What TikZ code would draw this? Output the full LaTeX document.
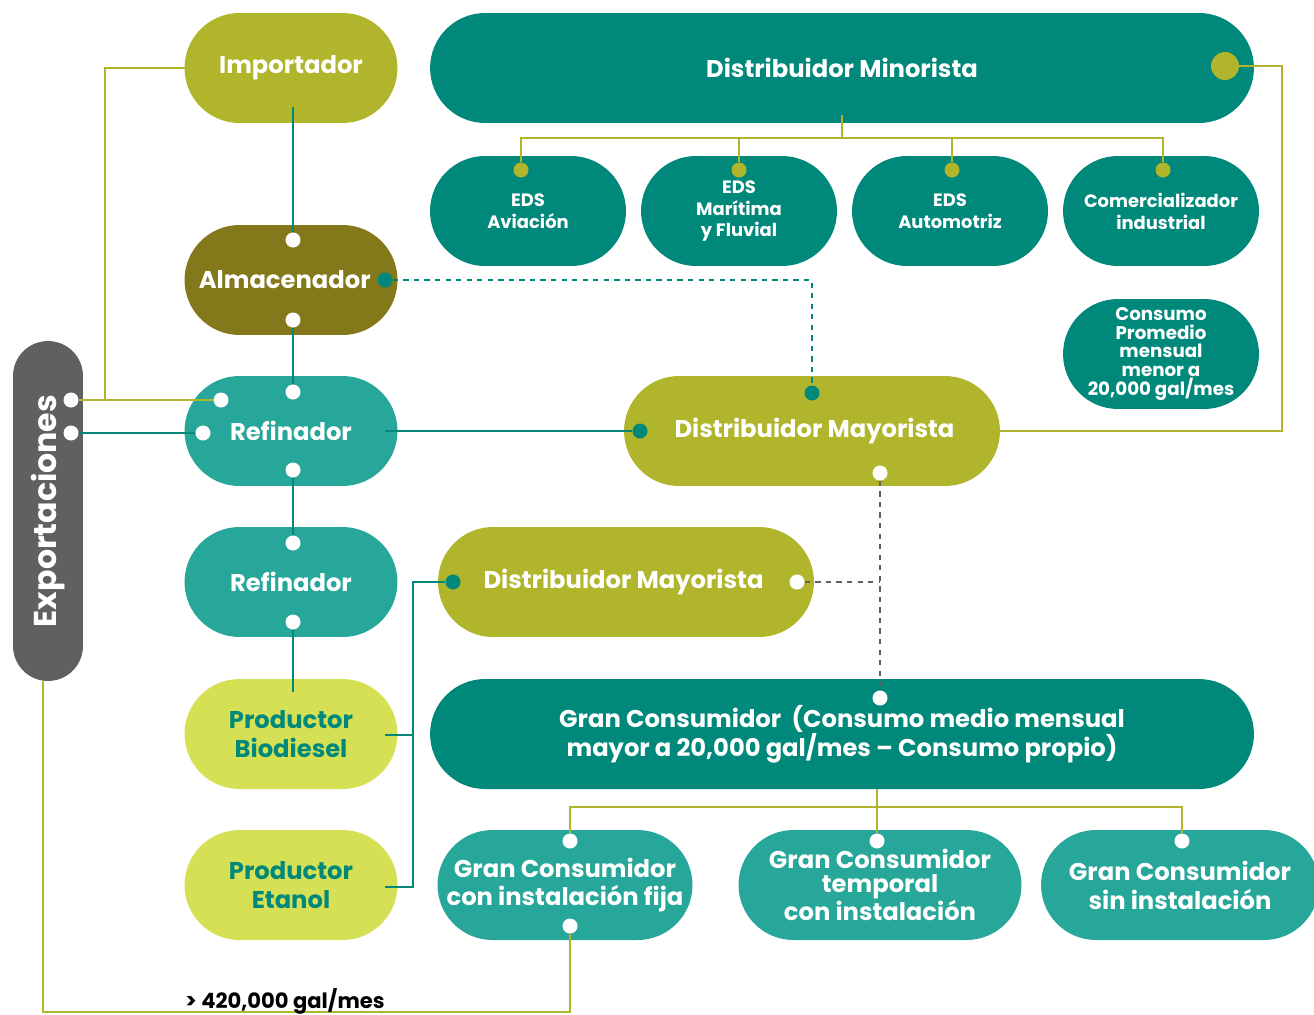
\documentclass[tikz,border=0pt]{standalone}
\usepackage{fontspec}
\setmainfont{Poppins}
\usepackage{tikz}

\definecolor{tealD}{RGB}{0,137,122}
\definecolor{tealL}{RGB}{39,166,154}
\definecolor{oliveG}{RGB}{177,181,43}
\definecolor{oliveD}{RGB}{131,120,26}
\definecolor{limeL}{RGB}{213,224,85}
\definecolor{grayE}{RGB}{96,96,96}

\begin{document}
\begin{tikzpicture}[x=0.02cm, y=-0.02cm,
	pill/.style={rounded corners=1.1cm, minimum height=2.2cm, inner sep=0pt, align=center, text=white, font=\bfseries\fontsize{13.8}{16.5}\selectfont},
	eds/.style={pill, fill=tealD, minimum width=3.92cm, font=\bfseries\fontsize{10.2}{12.4}\selectfont},
	wdot/.style={circle, fill=white, inner sep=0pt, minimum size=0.3cm},
	tdot/.style={circle, fill=tealD, inner sep=0pt, minimum size=0.3cm},
	odot/.style={circle, fill=oliveG, inner sep=0pt, minimum size=0.3cm},
	tline/.style={draw=tealD, line width=1.1pt},
	oline/.style={draw=oliveG, line width=1.1pt},
	gline/.style={draw=grayE, line width=1.1pt, dash pattern=on 3pt off 3pt}]

	\useasboundingbox (0,0) rectangle (1314,1014);

	% left column
	\node[pill, fill=oliveG, minimum width=4.26cm] (imp) at (291, 68) {Importador};
	\node[pill, fill=oliveD, minimum width=4.26cm] (alm) at (291, 280) {Almacenador\hspace*{0.25cm}};
	\node[pill, fill=tealL, minimum width=4.26cm] (ref1) at (291, 431) {Refinador};
	\node[pill, fill=tealL, minimum width=4.26cm] (ref2) at (291, 582) {Refinador};
	\node[pill, fill=limeL, text=tealD, minimum width=4.26cm] (bio) at (291, 734) {Productor\\Biodiesel};
	\node[pill, fill=limeL, text=tealD, minimum width=4.26cm] (eta) at (291, 885) {Productor\\Etanol};
	\node[pill, fill=grayE, rotate=90, rounded corners=0.7cm, minimum width=6.8cm, minimum height=1.4cm, font=\bfseries\fontsize{18}{20}\selectfont] (exp) at (48, 511) {Exportaciones};

	% distribuidores
	\node[pill, fill=tealD, minimum width=16.48cm] (min) at (842, 68) {Distribuidor Minorista};
	\node[eds] (eds1) at (528, 211) {EDS\\Aviación};
	\node[eds] (eds2) at (739, 211) {EDS\\Marítima\\y Fluvial};
	\node[eds] (eds3) at (950, 211) {EDS\\Automotriz};
	\node[eds] (eds4) at (1161, 211) {Comercializador\\industrial};
	\node[eds, font=\bfseries\fontsize{10.4}{10.8}\selectfont] (prom) at (1161, 354) {Consumo\\Promedio\\mensual\\menor a\\20,000 gal/mes};
	\node[pill, fill=oliveG, minimum width=7.52cm] (may1) at (812, 431) {\hspace*{0.1cm}Distribuidor Mayorista};
	\node[pill, fill=oliveG, minimum width=7.52cm] (may2) at (626, 582) {Distribuidor Mayorista\hspace*{0.1cm}};

	% consumidores
	\node[pill, fill=tealD, minimum width=16.48cm] (gran) at (842, 734) {Gran Consumidor~~(Consumo medio mensual\\mayor a 20,000 gal/mes -- Consumo propio)};
	\node[pill, fill=tealL, minimum width=5.1cm] (gc1) at (565, 885) {Gran Consumidor\\con instalación fija};
	\node[pill, fill=tealL, minimum width=5.66cm, font=\bfseries\fontsize{13.8}{13.6}\selectfont] (gc2) at (880, 885) {Gran Consumidor\\temporal\\con instalación};
	\node[pill, fill=tealL, minimum width=5.56cm] (gc3) at (1180, 885) {Gran Consumidor\\sin instalación};

	% puntos
	\node[wdot] (alm-t) at (293, 240) {};
	\node[wdot] (alm-b) at (293, 320) {};
	\node[tdot] (alm-r) at (385, 280) {};
	\node[wdot] (ref1-t) at (293, 392) {};
	\node[wdot] (ref1-b) at (293, 470) {};
	\node[wdot] (ref1-l) at (203, 433) {};
	\node[wdot] (ref1-e) at (221, 400) {};
	\node[wdot] (ref2-t) at (293, 543) {};
	\node[wdot] (ref2-b) at (293, 622) {};
	\node[wdot] (exp1) at (71, 400) {};
	\node[wdot] (exp2) at (71, 433) {};
	\node[tdot] (may1-t) at (812, 393) {};
	\node[tdot] (may1-l) at (640, 431) {};
	\node[wdot] (may1-b) at (880, 473) {};
	\node[tdot] (may2-l) at (453, 582) {};
	\node[wdot] (may2-r) at (797, 582) {};
	\node[odot, minimum size=0.56cm] (min-r) at (1225, 66) {};
	\node[odot] (eds1-t) at (521, 170) {};
	\node[odot] (eds2-t) at (739, 170) {};
	\node[odot] (eds3-t) at (952, 170) {};
	\node[odot] (eds4-t) at (1163, 170) {};
	\node[wdot] (gran-t) at (880, 698) {};
	\node[wdot] (gc1-t) at (570, 841) {};
	\node[wdot] (gc1-b) at (570, 926) {};
	\node[wdot] (gc2-t) at (877, 841) {};
	\node[wdot] (gc3-t) at (1182, 841) {};

	\coordinate (imp-b) at (293, 107);
	\coordinate (imp-l) at (185, 68);
	\coordinate (ref1-r) at (385, 431);
	\coordinate (bio-t) at (293, 692);
	\coordinate (bio-r) at (385, 735);
	\coordinate (eta-r) at (385, 887);
	\coordinate (may1-r) at (1000, 431);
	\coordinate (min-b) at (842, 115);
	\coordinate (gran-b) at (877, 789);
	\coordinate (exp-b) at (43, 681);
	\coordinate (bus1) at (842, 138);
	\coordinate (bus2) at (877, 807);
	\coordinate (j1) at (413, 582);
	\coordinate (j2) at (105, 68);
	\coordinate (j3) at (1282, 66);
	\coordinate (j4) at (570, 1012);

	% lineas
	\path[tline] (imp-b) -- (alm-t);
	\path[tline] (alm-b) -- (ref1-t);
	\path[tline] (ref1-b) -- (ref2-t);
	\path[tline] (ref2-b) -- (bio-t);
	\path[tline] (exp2) -- (ref1-l);
	\path[tline] (ref1-r) -- (may1-l);
	\path[tline] (may2-l) -- (j1) |- (eta-r);
	\path[tline] (bio-r) -- (bio-r -| j1);
	\path[tline, dash pattern=on 3pt off 3pt] (alm-r) -| (may1-t);
	\path[gline] (may1-b) -- (gran-t);
	\path[gline] (may2-r) -- (may2-r -| may1-b);
	\path[oline] (imp-l) -- (j2) -- (j2 |- exp1);
	\path[oline] (exp1) -- (ref1-e);
	\path[oline] (may1-r) -| (j3) -- (min-r);
	\path[oline] (min-b) -- (bus1);
	\path[oline] (eds1-t) |- (bus1) -| (eds4-t);
	\path[oline] (eds2-t) -- (eds2-t |- bus1);
	\path[oline] (eds3-t) -- (eds3-t |- bus1);
	\path[oline] (gran-b) -- (bus2);
	\path[oline] (gc1-t) |- (bus2) -| (gc3-t);
	\path[oline] (gc2-t) -- (bus2);
	\path[oline] (gc1-b) -- (j4) -| (exp-b);

	\node[font=\bfseries\fontsize{12}{14}\selectfont] (lim) at (285, 1001) {> 420,000 gal/mes};
\end{tikzpicture}
\end{document}
